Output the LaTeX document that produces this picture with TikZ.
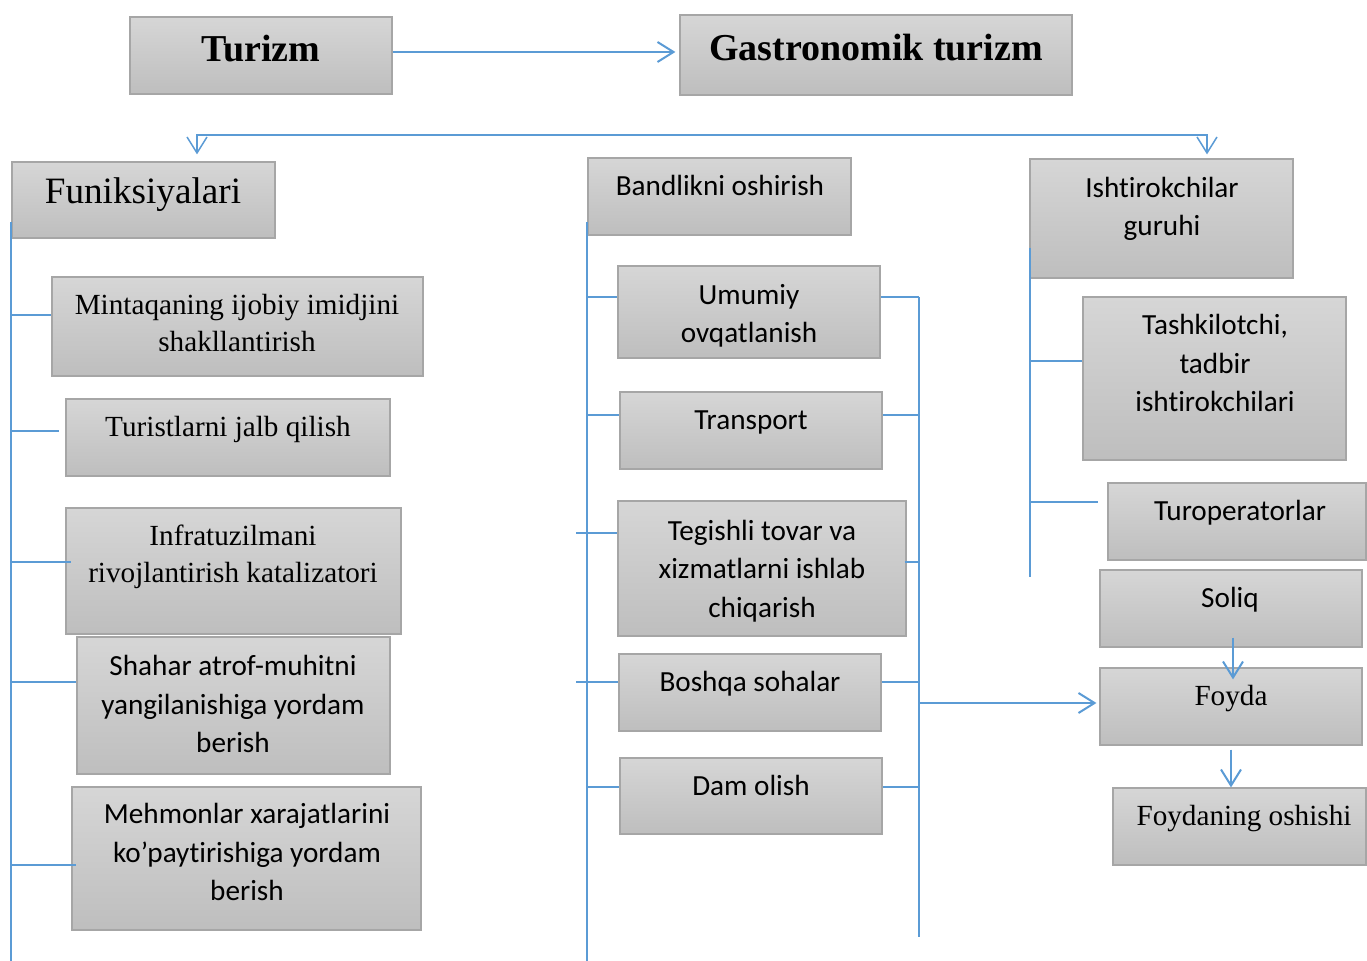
\documentclass[tikz,border=0pt]{standalone}
\usepackage{fontspec}
\setmainfont{Liberation Serif}
\setsansfont{Carlito}[Ligatures=NoCommon]
\usetikzlibrary{arrows.meta, positioning, fit}

\definecolor{lineblue}{RGB}{91,155,213}
\definecolor{boxtop}{RGB}{214,214,214}
\definecolor{boxbot}{RGB}{190,190,190}
\definecolor{boxedge}{RGB}{166,166,166}

\begin{document}
\begin{tikzpicture}[x=0.5pt, y=-0.5pt, >={Straight Barb[length=8pt, width=10pt]}]

        % --- Styles ---
        \tikzstyle{box} = [rectangle, draw=boxedge, line width=0.6pt, top color=boxtop, bottom color=boxbot, inner sep=0pt]
        \tikzstyle{rm} = [font=\fontsize{14.6}{18.5}\selectfont, align=center, inner sep=0pt]
        \tikzstyle{sf} = [font=\sffamily\fontsize{14.6}{19.2}\selectfont, align=center, inner sep=0pt]
        \tikzstyle{head} = [font=\bfseries\fontsize{19}{23}\selectfont, inner sep=0pt]
        \tikzstyle{link} = [draw=lineblue, line width=0.55pt]
        \tikzstyle{arrow} = [draw=lineblue, line width=1pt, ->]

        \useasboundingbox (0,0) rectangle (1367,961);

        % --- Top row ---
        \node (turizm) [box, fit={(130,17) (392,94)}] {};
        \node (turizm-t) [head] at (261,49) {Turizm};
        \node (gastro) [box, fit={(680,15) (1072,95)}] {};
        \node (gastro-t) [head] at (876,48) {Gastronomik turizm};

        % --- Left column ---
        \node (funk) [box, fit={(12,162) (275,238)}] {};
        \node (funk-t) [rm, font=\fontsize{18.6}{22}\selectfont] at (143,195) {Funiksiyalari};
        \node (mintaqa) [box, fit={(52,277) (423,376)}] {};
        \node (mintaqa-t) [rm] at (237,323) {Mintaqaning ijobiy imidjini\\shakllantirish};
        \node (turist) [box, fit={(66,399) (390,476)}] {};
        \node (turist-t) [rm] at (228,429) {Turistlarni jalb qilish};
        \node (infra) [box, fit={(66,508) (401,634)}] {};
        \node (infra-t) [rm] at (233,557) {Infratuzilmani\\rivojlantirish katalizatori};
        \node (shahar) [box, fit={(77,637) (390,774)}] {};
        \node (shahar-t) [sf] at (233,704) {Shahar atrof-muhitni\\yangilanishiga yordam\\berish};
        \node (mehmon) [box, fit={(72,787) (421,930)}] {};
        \node (mehmon-t) [sf] at (247,852) {Mehmonlar xarajatlarini\\ko’paytirishiga yordam\\berish};

        % --- Middle column ---
        \node (band) [box, fit={(588,158) (851,235)}] {};
        \node (band-t) [sf] at (720,185) {Bandlikni oshirish};
        \node (umumiy) [box, fit={(618,266) (880,358)}] {};
        \node (umumiy-t) [sf] at (749,316) {Umumiy\\ovqatlanish};
        \node (trans) [box, fit={(620,392) (882,469)}] {};
        \node (trans-t) [sf] at (751,422) {Transport};
        \node (tegishli) [box, fit={(618,501) (906,636)}] {};
        \node (tegishli-t) [sf] at (762,571) {Tegishli tovar va\\xizmatlarni ishlab\\chiqarish};
        \node (boshqa) [box, fit={(619,654) (881,731)}] {};
        \node (boshqa-t) [sf] at (750,684) {Boshqa sohalar};
        \node (dam) [box, fit={(620,758) (882,834)}] {};
        \node (dam-t) [sf] at (751,785) {Dam olish};

        % --- Right column ---
        \node (ishtirok) [box, fit={(1030,159) (1293,278)}] {};
        \node (ishtirok-t) [sf] at (1162,209) {Ishtirokchilar\\guruhi};
        \node (tashkil) [box, fit={(1083,297) (1346,460)}] {};
        \node (tashkil-t) [sf] at (1215,363) {Tashkilotchi,\\tadbir\\ishtirokchilari};
        \node (turop) [box, fit={(1108,483) (1366,560)}] {};
        \node (turop-t) [sf] at (1240,513) {Turoperatorlar};
        \node (soliq) [box, fit={(1100,570) (1362,647)}] {};
        \node (soliq-t) [sf] at (1230,600) {Soliq};
        \node (foyda) [box, fit={(1100,668) (1362,745)}] {};
        \node (foyda-t) [rm] at (1231,699) {Foyda};
        \node (foyoshi) [box, fit={(1113,788) (1366,865)}] {};
        \node (foyoshi-t) [rm] at (1244,819) {Foydaning oshishi};

        % --- Trunk lines ---
        \coordinate (bottom) at (0,961);
        \coordinate (trunkA) at (11,222);
        \coordinate (trunkB) at (587,222);
        \coordinate (trunkC) at (919,297);
        \coordinate (trunkD) at (1030,248);
        \draw[link] (trunkA) -- (trunkA |- bottom);
        \draw[link] (trunkB) -- (trunkB |- bottom);
        \draw[link] (trunkC) -- (trunkC |- 0,937);
        \draw[link] (trunkD) -- (trunkD |- 0,577);

        % --- Branches ---
        \draw[link] (trunkA |- 0,315) -- (mintaqa.west |- 0,315);
        \draw[link] (trunkA |- 0,431) -- ([xshift=-3pt]turist.west |- 0,431);
        \draw[link] (trunkA |- 0,562) -- ([xshift=3pt]infra.west |- 0,562);
        \draw[link] (trunkA |- 0,682) -- (shahar.west |- 0,682);
        \draw[link] (trunkA |- 0,865) -- ([xshift=2.5pt]mehmon.west |- 0,865);

        \draw[link] (trunkB |- 0,297) -- (umumiy.west |- 0,297);
        \draw[link] (trunkB |- 0,415) -- (trans.west |- 0,415);
        \draw[link] ([xshift=-5.5pt]trunkB |- 0,533) -- (tegishli.west |- 0,533);
        \draw[link] ([xshift=-5.5pt]trunkB |- 0,682) -- (boshqa.west |- 0,682);
        \draw[link] (trunkB |- 0,787) -- (dam.west |- 0,787);

        \draw[link] (umumiy.east |- 0,297) -- (trunkC |- 0,297);
        \draw[link] (trans.east |- 0,415) -- (trunkC |- 0,415);
        \draw[link] ([xshift=-1pt]tegishli.east |- 0,562) -- (trunkC |- 0,562);
        \draw[link] (boshqa.east |- 0,682) -- (trunkC |- 0,682);
        \draw[link] (dam.east |- 0,787) -- (trunkC |- 0,787);

        \draw[link] (trunkD |- 0,361) -- (tashkil.west |- 0,361);
        \draw[link] (trunkD |- 0,502) -- ([xshift=-4.5pt]turop.west |- 0,502);

        % --- Arrows ---
        \coordinate (splitL) at (197,135);
        \coordinate (splitR) at (1207,135);
        \draw[arrow, shorten >=2pt] (turizm.east |- 0,52) -- (gastro.west |- 0,52);
        \draw[arrow, <->, line width=0.75pt, shorten <=3.5pt, shorten >=2pt] (funk.north -| splitL) |- (splitR) -- (ishtirok.north -| splitR);
        \draw[arrow, shorten >=1.5pt] (trunkC |- 0,703) -- (foyda.west |- 0,703);
        \draw[arrow] ([yshift=5pt]soliq.south -| 1233,0) -- ([yshift=-6pt]foyda.north -| 1233,0);
        \draw[arrow] ([yshift=-2pt]foyda.south) -- (foyoshi.north -| foyda.south);

\end{tikzpicture}
\end{document}
